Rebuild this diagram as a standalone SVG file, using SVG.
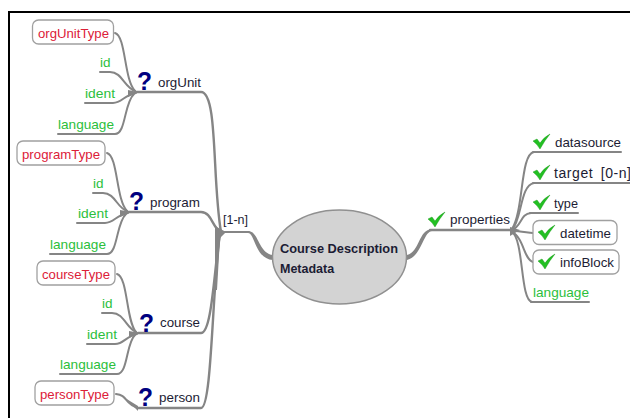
<svg xmlns="http://www.w3.org/2000/svg" width="630" height="418" viewBox="0 0 630 418">
<style>
text{font-family:"Liberation Sans",Arial,sans-serif;font-size:13.5px}
.d{fill:#1c1c34}.r{fill:#dc2038}.g{fill:#2cc03c}
.c path{fill:none;stroke:#858585;stroke-width:2;stroke-linecap:round}
.c path.t{stroke-width:2.4}
.c path.h{fill:#858585;stroke:none}
.b{fill:#fff;stroke:#a0a0a0;stroke-width:1.3}
.q{fill:#000080;font-size:26px;font-weight:bold}
.k{fill:#22c022;stroke:#149014;stroke-width:.4}
</style>
<defs><path id="chk" d="M0 7 L4 5 L7 9 Q11 3 17 0 Q12 6 7 15 Q4 10 0 7Z"/></defs>
<rect width="630" height="418" fill="#fff"/>
<path d="M9 418V12H630" fill="none" stroke="#000" stroke-width="2"/>
<g class="c" id="connectors">
<path d="M115 33C126 36 124 80 135 91"/>
<path d="M100 72H110C122 72 124 87 135 91"/>
<path d="M85 103H113C122 103 124 95 136 93"/>
<path d="M58 134H115C126 134 124 103 134 94"/>
<path class="t" d="M136 92H201C218 92 212 180 221 232"/>
<path class="h" d="M128 90L138 92L128 97Z"/>
<path d="M107 153C118 156 116 200 127 211"/>
<path d="M93 193H103C115 193 117 208 127 211"/>
<path d="M77 223H105C114 223 116 215 128 213"/>
<path d="M50 254H107C118 254 116 223 126 214"/>
<path class="t" d="M128 212H201C212 212 212 228 221 232"/>
<path class="h" d="M120 210L131 212L120 217Z"/>
<path d="M117 274C128 277 126 321 136 332"/>
<path d="M102 313H112C124 313 126 328 136 332"/>
<path d="M87 344H115C124 344 126 336 137 334"/>
<path d="M60 374H117C128 374 126 343 135 335"/>
<path class="t" d="M138 333H201C212 333 214 270 220 233"/>
<path class="h" d="M129 331L140 333L129 338Z"/>
<path d="M116 394C128 395 124 404 138 408"/>
<path class="t" d="M138 408H201C212 408 212 290 220 233"/>
<path class="h" d="M125 398L138 406V411Z"/>
<path class="h" d="M215 226L226 232L220 238L217 290L215 290Z"/>
<path d="M222 232H248"/>
<path class="h" d="M248 231C259 231 258 253 273 255V260C255 259 255 233 248 233Z"/>
<path class="h" d="M407 255C420 252 418 230 432 229V231C423 232 422 256 407 260Z"/>
<path class="t" d="M430 230H510"/>
<path d="M533 152H621"/><path d="M533 183H630"/><path d="M530 213H578"/><path d="M531 302H589"/>
<path d="M534 152C520 154 524 210 512 229"/>
<path d="M534 183C520 185 522 220 512 230"/>
<path d="M531 213C520 214 522 226 512 230"/>
<path d="M512 230C520 232 526 232 533 233"/>
<path d="M512 232C524 238 524 260 533 262"/>
<path d="M512 232C524 240 520 300 532 302"/>
<path class="h" d="M510 227L520 230L510 236Z"/>
</g>
<g id="center"><ellipse cx="339.500" cy="257" rx="67" ry="47" fill="#d3d3d3" stroke="#909090" stroke-width="1.5"/>
<text x="280" y="253" font-weight="bold" style="font-size:12.5px" class="d" textLength="118" lengthAdjust="spacingAndGlyphs">Course Description</text>
<text x="280" y="273" font-weight="bold" style="font-size:12.5px" class="d">Metadata</text></g>
<g id="orgUnitType"><rect class="b" x="32.500" y="20" width="81" height="24" rx="6"/><text class="r" x="38" y="38" textLength="71" lengthAdjust="spacingAndGlyphs">orgUnitType</text></g>
<g id="orgUnit-id"><text class="g" x="100" y="67">id</text></g>
<g id="orgUnit-ident"><text class="g" x="85" y="98" textLength="30" lengthAdjust="spacingAndGlyphs">ident</text></g>
<g id="orgUnit-language"><text class="g" x="58" y="129" textLength="56" lengthAdjust="spacingAndGlyphs">language</text></g>
<g id="orgUnit"><text class="q" x="137" y="90" textLength="15" lengthAdjust="spacingAndGlyphs">?</text><text class="d" x="158" y="87" textLength="43" lengthAdjust="spacingAndGlyphs">orgUnit</text></g>
<g id="programType"><rect class="b" x="17" y="141" width="88" height="24" rx="6"/><text class="r" x="22" y="159" textLength="78" lengthAdjust="spacingAndGlyphs">programType</text></g>
<g id="program-id"><text class="g" x="93" y="188">id</text></g>
<g id="program-ident"><text class="g" x="78" y="218" textLength="30" lengthAdjust="spacingAndGlyphs">ident</text></g>
<g id="program-language"><text class="g" x="50" y="249" textLength="56" lengthAdjust="spacingAndGlyphs">language</text></g>
<g id="program"><text class="q" x="129" y="210" textLength="15" lengthAdjust="spacingAndGlyphs">?</text><text class="d" x="150" y="207" textLength="50" lengthAdjust="spacingAndGlyphs">program</text></g>
<g id="courseType"><rect class="b" x="37" y="261" width="78" height="24" rx="6"/><text class="r" x="42" y="279" textLength="68" lengthAdjust="spacingAndGlyphs">courseType</text></g>
<g id="course-id"><text class="g" x="102" y="308">id</text></g>
<g id="course-ident"><text class="g" x="87" y="339" textLength="30" lengthAdjust="spacingAndGlyphs">ident</text></g>
<g id="course-language"><text class="g" x="60" y="369" textLength="56" lengthAdjust="spacingAndGlyphs">language</text></g>
<g id="course"><text class="q" x="139" y="332" textLength="15" lengthAdjust="spacingAndGlyphs">?</text><text class="d" x="160" y="327" textLength="40" lengthAdjust="spacingAndGlyphs">course</text></g>
<g id="personType"><rect class="b" x="35" y="381" width="79" height="24" rx="6"/><text class="r" x="40" y="399" textLength="69" lengthAdjust="spacingAndGlyphs">personType</text></g>
<g id="person"><text class="q" x="138" y="406" textLength="15" lengthAdjust="spacingAndGlyphs">?</text><text class="d" x="159" y="402" textLength="41" lengthAdjust="spacingAndGlyphs">person</text></g>
<g id="multiplicity"><text class="d" x="223" y="224" style="font-size:12.5px" textLength="25" lengthAdjust="spacingAndGlyphs">[1-n]</text></g>
<g id="properties"><use href="#chk" class="k" x="428" y="212"/><text class="d" x="450" y="224" textLength="60" lengthAdjust="spacingAndGlyphs">properties</text></g>
<g id="datasource"><use href="#chk" class="k" x="533" y="134"/><text class="d" x="555" y="147" textLength="66" lengthAdjust="spacingAndGlyphs">datasource</text></g>
<g id="target"><use href="#chk" class="k" x="533" y="165"/><text class="d" x="554" y="178" style="font-size:14px;word-spacing:3px" textLength="77">target [0-n]</text></g>
<g id="type"><use href="#chk" class="k" x="533" y="195"/><text class="d" x="554" y="208" textLength="24" lengthAdjust="spacingAndGlyphs">type</text></g>
<g id="datetime"><rect class="b" x="533" y="220.500" width="84" height="24" rx="6"/><use href="#chk" class="k" x="538" y="225"/><text class="d" x="560" y="238" textLength="51" lengthAdjust="spacingAndGlyphs">datetime</text></g>
<g id="infoBlock"><rect class="b" x="533" y="250" width="86" height="24" rx="6"/><use href="#chk" class="k" x="538" y="254"/><text class="d" x="560" y="267" textLength="54" lengthAdjust="spacingAndGlyphs">infoBlock</text></g>
<g id="language"><text class="g" x="533" y="297" textLength="56" lengthAdjust="spacingAndGlyphs">language</text></g>
</svg>
